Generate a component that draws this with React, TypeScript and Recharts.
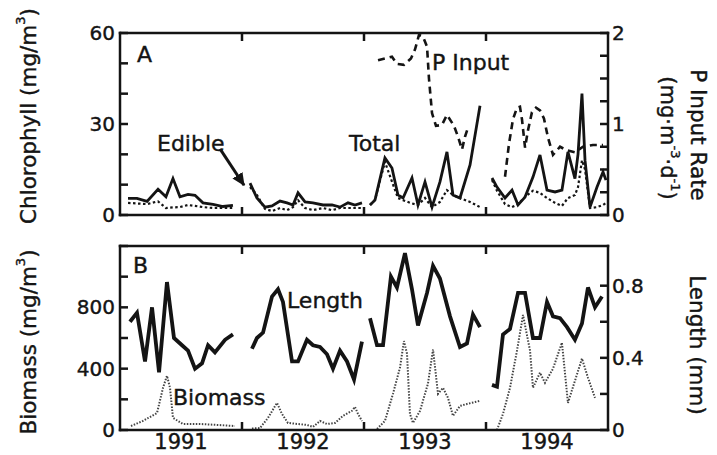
import React from 'react';
import { LineChart, Line, XAxis, YAxis, ReferenceLine } from 'recharts';

const FONT = '"DejaVu Sans", "Liberation Sans", sans-serif';
const INK = '#141414';

// Time axis: months since 1 Jan 1991 (null entries break the line between years)
const chlMonths = [
  0.79, 1.67, 2.66, 3.74, 4.52, 5.21, 5.9, 6.69, 7.38, 8.16, 9.15, 10.13, 11.11,
  12,
  12.79, 13.47, 14.26, 14.95, 15.74, 16.43, 17.02, 17.51, 18.2, 18.98, 19.97, 20.85, 21.64, 22.43, 23.11, 23.8,
  24,
  24.59, 25.08, 26.06, 26.75, 27.34, 27.84, 28.72, 29.31, 30.0, 30.69, 31.47, 32.16, 32.75, 33.44, 34.43, 35.41,
  36,
  36.59, 37.08, 37.87, 38.56, 39.15, 39.84, 40.62, 41.31, 42.0, 42.79, 43.47, 44.06, 44.75, 45.05, 45.44, 45.74, 46.23, 46.92, 47.51, 47.8,
];
const chlTotal = [
  5.5, 5.5, 4.5, 8.5, 6, 12, 6, 6.8, 6.5, 4, 3.5, 2.8, 3.2,
  null,
  10.5, 5.6, 2.6, 3, 4.6, 4, 3.3, 7.3, 4.3, 4, 3.3, 3.3, 2.6, 4, 3.3, 4,
  null,
  3.3, 4.9, 18.8, 15.5, 6.6, 5.6, 12.2, 3.3, 10.9, 2.6, 10.9, 20.8, 6.6, 5.6, 16.5, 36,
  null,
  12.2, 9.2, 5.6, 8.2, 3.3, 5.9, 12.5, 19.8, 8.2, 7.6, 8.2, 20.8, 12, 20, 40, 18, 2.6, 9.2, 14.2, 11.5,
];
const chlEdible = [
  4, 3.8, 3.6, 4.5, 2.3, 2.5, 2.6, 3.3, 3, 2.6, 2.3, 2.3, 2.3,
  null,
  9.2, 6.6, 2.0, 1.3, 2.3, 1.6, 2.6, 4.9, 2.3, 1.6, 2.3, 1.6, 2.3, 2.3, 2.3, 2.3,
  null,
  3.3, 5.0, 17.5, 11, 5.6, 4.9, 3.8, 3.3, 5.6, 2.6, 4.3, 8.2, 6.6, 5.6, 4.3, 2.6,
  null,
  11.5, 8, 3.6, 2.6, 3.5, 6, 8, 7.3, 5.6, 4, 3, 5.6, 6.6, 9.2, 18, 15, 2.3, 2.6, 3.3, 4,
];
const pMonths = [
  25.38, 26.75, 27.24, 27.93, 28.62, 29.02, 29.41, 29.8, 30.2, 30.39, 30.69, 31.08, 31.67, 32.16, 32.85, 33.25, 33.64, 33.93, 34.23,
  36,
  37.87, 38.26, 38.65, 39.05, 39.34, 39.54, 39.84, 40.13, 40.52, 40.92, 41.31, 41.7, 42.1, 42.59, 43.28, 43.97, 44.75, 45.54, 46.52, 47.51,
];
const pInput = [
  1.7, 1.74, 1.66, 1.65, 1.72, 1.82, 1.98, 1.96, 1.85, 1.5, 1.12, 0.98, 0.99, 1.1, 0.98, 0.86, 0.72, 0.86, 0.96,
  null,
  0.42, 0.78, 1.05, 1.18, 1.19, 1.05, 0.74, 0.93, 1.13, 1.18, 1.15, 1.06, 0.85, 0.66, 0.75, 0.71, 0.69, 0.75, 0.77, 0.77,
];
const lenMonths = [
  0.98, 1.67, 2.46, 3.15, 3.84, 4.62, 5.31, 6.1, 6.69, 7.38, 8.07, 8.66, 9.34, 10.33, 11.11,
  12,
  12.98, 13.47, 14.07, 14.95, 15.54, 16.03, 16.92, 17.51, 18.39, 18.98, 19.67, 20.36, 20.95, 21.64, 22.33, 23.02, 23.8,
  24,
  24.59, 25.28, 25.87, 26.65, 27.24, 28.03, 28.72, 29.31, 30.2, 30.79, 31.47, 32.46, 33.44, 34.13, 34.72, 35.41,
  36,
  36.59, 37.08, 37.67, 38.36, 39.15, 39.84, 40.62, 41.31, 42.0, 42.59, 43.28, 43.97, 44.75, 45.44, 46.03, 46.72, 47.41,
];
const lengthMm = [
  0.6, 0.65, 0.38, 0.68, 0.32, 0.82, 0.51, 0.47, 0.44, 0.34, 0.37, 0.47, 0.43, 0.5, 0.53,
  null,
  0.45, 0.51, 0.54, 0.74, 0.78, 0.71, 0.38, 0.38, 0.5, 0.47, 0.46, 0.42, 0.34, 0.44, 0.38, 0.28, 0.49,
  null,
  0.62, 0.47, 0.47, 0.85, 0.79, 0.98, 0.78, 0.58, 0.76, 0.91, 0.84, 0.63, 0.46, 0.48, 0.64, 0.57,
  null,
  0.25, 0.24, 0.53, 0.56, 0.76, 0.76, 0.51, 0.51, 0.71, 0.63, 0.62, 0.57, 0.5, 0.59, 0.79, 0.68, 0.74,
];
const bioMonths = [
  1.08, 2.26, 3.64, 4.23, 4.62, 4.92, 5.21, 6.2, 7.87, 9.54, 11.31,
  12,
  12.98, 13.77, 14.56, 15.44, 15.93, 16.52, 17.51, 18.39, 18.98, 19.67, 20.36, 21.15, 21.93, 22.82, 23.11, 23.41, 23.8,
  24,
  25.28, 26.06, 26.85, 27.54, 27.93, 28.23, 28.52, 28.82, 29.51, 30.29, 30.79, 31.28, 31.77, 32.26, 32.75, 33.44, 34.13, 35.41,
  36,
  37.08, 37.67, 38.36, 39.05, 39.64, 40.33, 40.62, 41.31, 41.8, 42.59, 43.47, 44.06, 44.75, 45.44, 46.03, 46.72,
];
const biomass = [
  26, 59, 111, 275, 354, 275, 79, 39, 39, 33, 26,
  null,
  10, 13, 79, 177, 105, 46, 39, 33, 20, 59, 39, 46, 92, 125, 151, 105, 59,
  null,
  7, 59, 236, 407, 580, 498, 105, 46, 125, 302, 525, 236, 275, 210, 92, 157, 170, 190,
  null,
  0, 105, 275, 518, 750, 518, 275, 374, 308, 400, 570, 177, 321, 466, 341, 210,
];

const yearLabels = ['1991', '1992', '1993', '1994'];
const yearMid = [6, 18, 30, 42];
const yearBounds = [12, 24, 36];
const chlTicks = [0, 10, 20, 30, 40, 50, 60];
const chlLabels = [0, 30, 60];
const pTicks = [0, 0.25, 0.5, 0.75, 1, 1.25, 1.5, 1.75, 2];
const pLabels = [0, 1, 2];
const bioTicks = [0, 200, 400, 600, 800, 1000, 1200];
const bioLabels = [0, 400, 800];
const lenTicks = [0, 0.2, 0.4, 0.6, 0.8];
const lenLabels = [0, 0.4, 0.8];

// annotation arrow for "Edible" (data units: months, mg/m3)
const edibleArrowFrom = { x: 9.84, y: 21.8 };
const edibleArrowTo = { x: 12.2, y: 9.8 };

const toRows = (ms: number[], vs: (number | null)[]) => ms.map((m, i) => ({ m, v: vs[i] }));

const totalRows = toRows(chlMonths, chlTotal);
const edibleRows = toRows(chlMonths, chlEdible);
const pRows = toRows(pMonths, pInput);
const lenRows = toRows(lenMonths, lengthMm);
const bioRows = toRows(bioMonths, biomass);

const makeYTick = (labels: number[], side: 'left' | 'right') => (props: any) => {
  const { x, y, payload } = props;
  const v = payload.value;
  const show = labels.some((l) => Math.abs(l - v) < 1e-9);
  const inward = side === 'left' ? 8 : -8;
  return (
    <g>
      <line x1={x} y1={y} x2={x + inward} y2={y} stroke={INK} strokeWidth={2.5} />
      {show && (
        <text
          x={side === 'left' ? x - 5 : x + 4}
          y={y}
          dy={7}
          textAnchor={side === 'left' ? 'end' : 'start'}
          fontFamily={FONT}
          fontSize={20}
          fill={INK}
          stroke={INK}
          strokeWidth={0.4}
        >
          {String(v)}
        </text>
      )}
    </g>
  );
};

const makeXTick = (withLabels: boolean) => (props: any) => {
  const { x, y, payload } = props;
  const v = payload.value;
  if (yearBounds.includes(v)) {
    return <line x1={x} y1={y} x2={x} y2={y - 8} stroke={INK} strokeWidth={2.5} />;
  }
  const idx = yearMid.indexOf(v);
  if (!withLabels || idx < 0) return <g />;
  return (
    <text x={x} y={y + 19} textAnchor="middle" fontFamily={FONT} fontSize={21} fill={INK} stroke={INK} strokeWidth={0.4}>
      {yearLabels[idx]}
    </text>
  );
};

const topTick = (props: any) => {
  const { x, y } = props;
  return <line x1={x} y1={y} x2={x} y2={y + 8} stroke={INK} strokeWidth={2.5} />;
};

const axisLine = { stroke: INK, strokeWidth: 2.5, strokeLinecap: 'square' as const };

export default function App() {
  return (
    <div style={{ position: 'absolute', left: 0, top: 0, width: 717, height: 455, background: '#fff', overflow: 'hidden' }}>
      <svg width={0} height={0} style={{ position: 'absolute' }}>
        <defs>
          <marker id="arrowhead" markerWidth={14} markerHeight={12} refX={12} refY={6} orient="auto" markerUnits="userSpaceOnUse">
            <path d="M0,0 L13,6 L0,12 z" fill={INK} />
          </marker>
        </defs>
      </svg>

      <div style={{ position: 'absolute', left: 0, top: 0 }}>
        <LineChart width={717} height={230} margin={{ top: 32, right: 49, left: 60, bottom: 14 }}>
          <XAxis xAxisId="b" type="number" dataKey="m" domain={[0, 48]} allowDataOverflow ticks={yearBounds}
            interval={0} height={1} tickSize={0} tickMargin={0} tickLine={false} axisLine={axisLine} tick={makeXTick(false)} />
          <XAxis xAxisId="t" orientation="top" type="number" dataKey="m" domain={[0, 48]} allowDataOverflow ticks={yearBounds}
            interval={0} height={1} tickSize={0} tickMargin={0} tickLine={false} axisLine={axisLine} tick={topTick} />
          <YAxis yAxisId="left" type="number" domain={[0, 60]} ticks={chlTicks} interval={0} width={60}
            tickSize={0} tickMargin={0} tickLine={false} axisLine={axisLine} tick={makeYTick(chlLabels, 'left')} />
          <YAxis yAxisId="right" orientation="right" type="number" domain={[0, 2]} ticks={pTicks} interval={0} width={60}
            tickSize={0} tickMargin={0} tickLine={false} axisLine={axisLine} tick={makeYTick(pLabels, 'right')} />
          <Line xAxisId="b" yAxisId="left" data={edibleRows} dataKey="v" type="linear" stroke={INK} strokeWidth={2.2}
            strokeDasharray="2.5 2.5" dot={false} activeDot={false} connectNulls={false} isAnimationActive={false} />
          <Line xAxisId="b" yAxisId="left" data={totalRows} dataKey="v" type="linear" stroke={INK} strokeWidth={2.8}
            dot={false} activeDot={false} connectNulls={false} isAnimationActive={false} />
          <Line xAxisId="b" yAxisId="right" data={pRows} dataKey="v" type="linear" stroke={INK} strokeWidth={2.6}
            strokeDasharray="7 5" dot={false} activeDot={false} connectNulls={false} isAnimationActive={false} />
          <ReferenceLine xAxisId="b" yAxisId="left" segment={[edibleArrowFrom, edibleArrowTo]} stroke={INK} strokeWidth={3}
            markerEnd="url(#arrowhead)" ifOverflow="visible" />
        </LineChart>
      </div>

      <div style={{ position: 'absolute', left: 0, top: 230 }}>
        <LineChart width={717} height={225} margin={{ top: 15, right: 49, left: 60, bottom: 0 }}>
          <XAxis xAxisId="b" type="number" dataKey="m" domain={[0, 48]} allowDataOverflow ticks={[6, 12, 18, 24, 30, 36, 42]}
            interval={0} height={25} tickSize={0} tickMargin={0} tickLine={false} axisLine={axisLine} tick={makeXTick(true)} />
          <XAxis xAxisId="t" orientation="top" type="number" dataKey="m" domain={[0, 48]} allowDataOverflow ticks={yearBounds}
            interval={0} height={1} tickSize={0} tickMargin={0} tickLine={false} axisLine={axisLine} tick={topTick} />
          <YAxis yAxisId="left" type="number" domain={[0, 1200]} ticks={bioTicks} interval={0} width={60}
            tickSize={0} tickMargin={0} tickLine={false} axisLine={axisLine} tick={makeYTick(bioLabels, 'left')} />
          <YAxis yAxisId="right" orientation="right" type="number" domain={[0, 1.02]} ticks={lenTicks} interval={0} width={60}
            tickSize={0} tickMargin={0} tickLine={false} axisLine={axisLine} tick={makeYTick(lenLabels, 'right')} />
          <Line xAxisId="b" yAxisId="left" data={bioRows} dataKey="v" type="linear" stroke="#444" strokeWidth={2}
            strokeDasharray="1.5 1.5" dot={false} activeDot={false} connectNulls={false} isAnimationActive={false} />
          <Line xAxisId="b" yAxisId="right" data={lenRows} dataKey="v" type="linear" stroke={INK} strokeWidth={3.8}
            dot={false} activeDot={false} connectNulls={false} isAnimationActive={false} />
        </LineChart>
      </div>

      <svg width={717} height={455} style={{ position: 'absolute', left: 0, top: 0, pointerEvents: 'none' }}
        fontFamily={FONT} fill={INK} stroke={INK} strokeWidth={0.4}>
        <text x={137} y={62} fontSize={22}>A</text>
        <text x={157} y={151} fontSize={22}>Edible</text>
        <text x={349} y={151} fontSize={22}>Total</text>
        <text x={432} y={70} fontSize={22}>P Input</text>
        <text x={133} y={273} fontSize={22}>B</text>
        <text x={287} y={308} fontSize={22}>Length</text>
        <text x={173} y={405} fontSize={22}>Biomass</text>

        <text transform="translate(28,116) rotate(-90)" textAnchor="middle" dominantBaseline="central" fontSize={21.5}>
          Chlorophyll (mg/m<tspan dy={-8} fontSize={13}>3</tspan><tspan dy={8}>)</tspan>
        </text>
        <text transform="translate(28,342) rotate(-90)" textAnchor="middle" dominantBaseline="central" fontSize={21.5}>
          Biomass (mg/m<tspan dy={-8} fontSize={13}>3</tspan><tspan dy={8}>)</tspan>
        </text>
        <text transform="translate(698,135) rotate(90)" textAnchor="middle" dominantBaseline="central" fontSize={21.5}>
          P Input Rate
        </text>
        <text transform="translate(668,138) rotate(90)" textAnchor="middle" dominantBaseline="central" fontSize={21}>
          (mg·m<tspan dy={-8} fontSize={13}>-3</tspan><tspan dy={8}>·d</tspan><tspan dy={-8} fontSize={13}>-1</tspan><tspan dy={8}>)</tspan>
        </text>
        <text transform="translate(697,345) rotate(90)" textAnchor="middle" dominantBaseline="central" fontSize={21.5}>
          Length (mm)
        </text>
      </svg>
    </div>
  );
}
